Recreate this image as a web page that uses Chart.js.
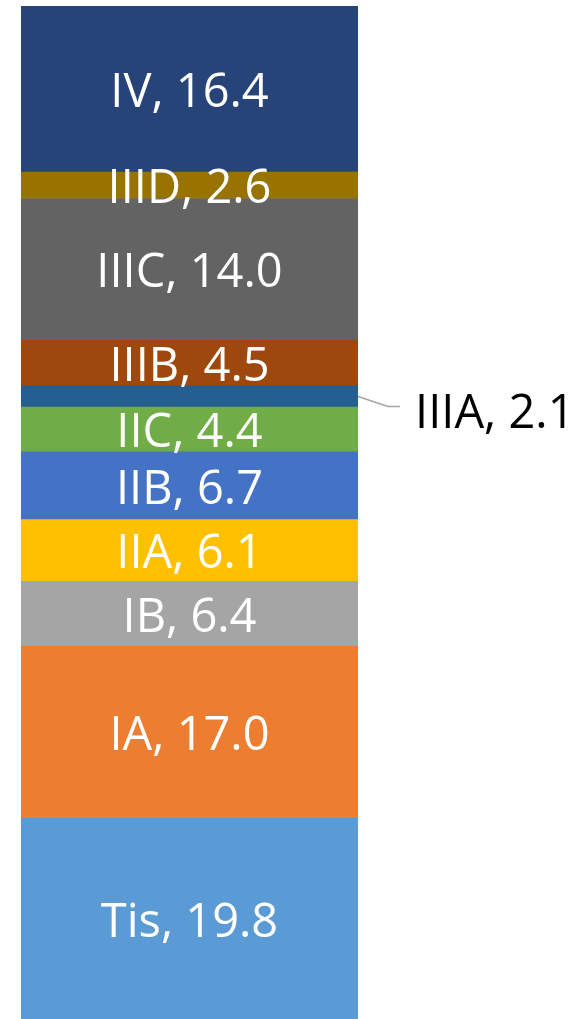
<!DOCTYPE html>
<html>
<head>
<meta charset="utf-8">
<title>Stage distribution</title>
<script src="https://cdn.jsdelivr.net/npm/chart.js@4.4.1/dist/chart.umd.min.js"></script>
<style>
  html, body { margin: 0; padding: 0; background: #ffffff; }
  #wrap { width: 577px; height: 1019px; position: relative; }
</style>
</head>
<body>
<div id="wrap"><canvas id="stageChart"></canvas></div>
<script>
// Stadi, dal basso verso l'alto (ordine di impilamento)
const stages = ['Tis', 'IA', 'IB', 'IIA', 'IIB', 'IIC', 'IIIA', 'IIIB', 'IIIC', 'IIID', 'IV'];
const percents = [19.8, 17.0, 6.4, 6.1, 6.7, 4.4, 2.1, 4.5, 14.0, 2.6, 16.4];
const stageColors = ['#5B9BD5', '#ED7D31', '#A5A5A5', '#FFC000', '#4472C4', '#70AD47',
                     '#255E91', '#9E480E', '#636363', '#997300', '#264478'];
// etichette disegnate fuori dalla barra, con linea guida
const outsideLabels = ['IIIA'];

const labelFont = '47px "Open Sans"';

// Plugin per le etichette "Stadio, valore" al centro di ogni segmento
const segmentLabels = {
    id: 'segmentLabels',
    afterDatasetsDraw(chart) {
        const ctx = chart.ctx;
        ctx.save();
        ctx.font = labelFont;
        ctx.textBaseline = 'alphabetic';
        chart.data.datasets.forEach((ds, i) => {
            const bar = chart.getDatasetMeta(i).data[0];
            if (!bar) return;
            const text = ds.label + ', ' + ds.data[0].toFixed(1);
            const midY = (bar.y + bar.base) / 2;
            if (outsideLabels.includes(ds.label)) {
                const right = bar.x + bar.width / 2;
                ctx.strokeStyle = '#A5A5A5';
                ctx.lineWidth = 1.5;
                ctx.beginPath();
                ctx.moveTo(right, midY);
                ctx.lineTo(right + 30, midY + 10);
                ctx.lineTo(right + 42, midY + 10);
                ctx.stroke();
                ctx.fillStyle = '#000000';
                ctx.textAlign = 'left';
                ctx.fillText(text, right + 57, midY + 13 + 18);
            } else {
                ctx.fillStyle = '#ffffff';
                ctx.textAlign = 'center';
                ctx.fillText(text, bar.x, midY + 18);
            }
        });
        ctx.restore();
    }
};

document.addEventListener('DOMContentLoaded', function() {
    const datasets = stages.map((s, i) => ({
        label: s,
        data: [percents[i]],
        backgroundColor: stageColors[i],
        borderWidth: 0,
        barPercentage: 1.0,
        categoryPercentage: 1.0
    }));

    new Chart(document.getElementById('stageChart'), {
        type: 'bar',
        data: { labels: [''], datasets: datasets },
        options: {
            responsive: true,
            maintainAspectRatio: false,
            animation: false,
            layout: { padding: { left: 21, right: 219, top: 6, bottom: 0 } },
            scales: {
                x: { stacked: true, display: false },
                y: { stacked: true, display: false, min: 0, max: 100 }
            },
            plugins: {
                legend: { display: false },
                tooltip: { enabled: false }
            }
        },
        plugins: [segmentLabels]
    });
});
</script>
</body>
</html>
